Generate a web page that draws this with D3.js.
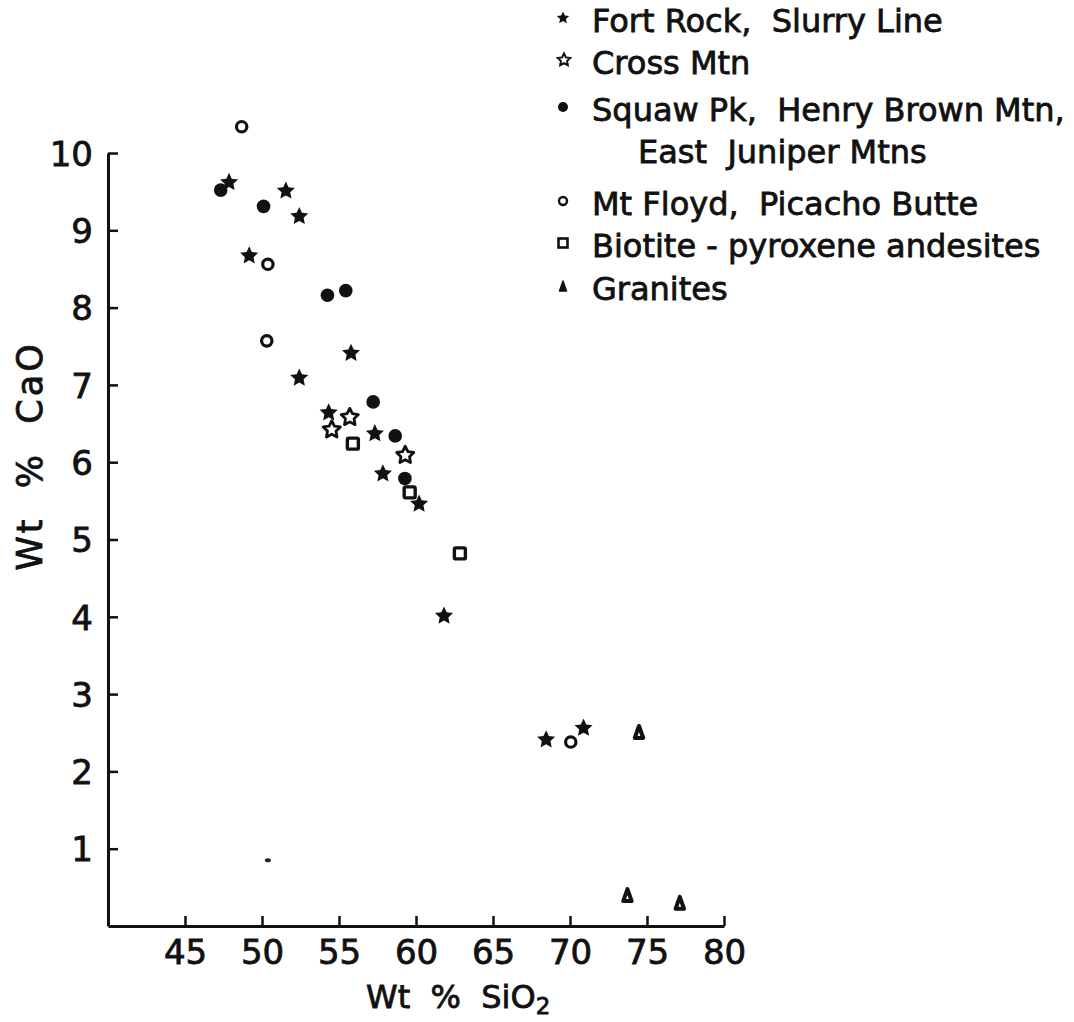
<!DOCTYPE html>
<html>
<head>
<meta charset="utf-8">
<script src="https://cdn.jsdelivr.net/npm/d3@7"></script>
<style>
  body { margin: 0; background: #fff; }
  svg text { font-family: "DejaVu Sans", "Liberation Sans", sans-serif; fill: #111; white-space: pre;
    stroke: #111; stroke-width: 0.8px; }
</style>
</head>
<body>
<div id="chart"></div>
<script>
// data: [SiO2, CaO]
var fortRock = [[47.86, 9.62], [51.55, 9.51], [52.42, 9.18], [49.17, 8.67], [55.78, 7.41],
  [52.42, 7.09], [54.33, 6.64], [57.33, 6.37], [57.85, 5.85], [60.2, 5.46],
  [61.82, 4.01], [68.45, 2.41], [70.88, 2.56]];
var crossMtn = [[55.7, 6.58], [54.53, 6.42], [59.3, 6.09]];
var squawPk = [[47.32, 9.52], [50.1, 9.31], [54.25, 8.16], [55.44, 8.22], [57.22, 6.78],
  [58.65, 6.34], [59.28, 5.79]];
var mtFloyd = [[48.68, 10.34], [50.38, 8.56], [50.31, 7.57], [70.05, 2.38]];
var biotite = [[55.9, 6.24], [59.59, 5.61], [62.85, 4.82]];
var granites = [[74.48, 2.51], [73.73, 0.40], [77.13, 0.30]];
var speck = [[50.38, 0.85]];

var xTicks = [45, 50, 55, 60, 65, 70, 75, 80];
var yTicks = [1, 2, 3, 4, 5, 6, 7, 8, 9, 10];

var legendLabels = [
  ["Fort Rock,  Slurry Line"],
  ["Cross Mtn"],
  ["Squaw Pk,  Henry Brown Mtn,", "East  Juniper Mtns"],
  ["Mt Floyd,  Picacho Butte"],
  ["Biotite - pyroxene andesites"],
  ["Granites"]
];

var svgWidth = 1074;
var svgHeight = 1022;

var svg = d3.select("#chart")
  .append("svg")
  .attr("width", svgWidth)
  .attr("height", svgHeight);

var xScale = d3.scaleLinear().domain([40, 80]).range([108, 724]);
var yScale = d3.scaleLinear().domain([0, 10]).range([926, 153]);

// axes, ticks point inward
var bottomAxis = d3.axisBottom(xScale).tickValues(xTicks).tickSizeInner(-10).tickSizeOuter(0).tickPadding(14);
var leftAxis = d3.axisLeft(yScale).tickValues(yTicks).tickSizeInner(-10).tickSizeOuter(0).tickPadding(15);

var gx = svg.append("g")
  .attr("transform", `translate(0, ${yScale(0)})`)
  .call(bottomAxis);
var gy = svg.append("g")
  .attr("transform", `translate(${xScale(40)}, 0)`)
  .call(leftAxis);

[gx, gy].forEach(function(g) {
  g.select(".domain").attr("stroke", "#111").attr("stroke-width", 3);
  g.selectAll(".tick line").attr("stroke", "#111").attr("stroke-width", 2.5);
  g.selectAll(".tick text").style("font-size", "34px").style("font-family", "DejaVu Sans").attr("fill", "#111");
});
gy.selectAll(".tick text").attr("dy", "0.36em");

// axis titles
svg.append("text")
  .attr("transform", `translate(42, 456) rotate(-90)`)
  .attr("text-anchor", "middle")
  .style("font-size", "35px")
  .style("letter-spacing", "3px")
  .text("Wt  %  CaO");

var xTitle = svg.append("text")
  .attr("x", 366)
  .attr("y", 1008)
  .style("font-size", "32px");
xTitle.append("tspan").text("Wt  %  SiO");
xTitle.append("tspan").attr("dy", 6).style("font-size", "23px").text("2");

// marker shapes
function starPath(r, k) {
  var pts = [];
  for (var i = 0; i < 10; i++) {
    var a = -Math.PI / 2 + i * Math.PI / 5;
    var rr = i % 2 ? r * k : r;
    pts.push([rr * Math.cos(a), rr * Math.sin(a)]);
  }
  return d3.line()(pts) + "Z";
}
var triPath = function(w, h) {
  return `M0,${-h / 2} L${w / 2},${h / 2} L${-w / 2},${h / 2} Z`;
};

var marks = svg.append("g");

function place(sel) {
  return sel.attr("transform", d => `translate(${xScale(d[0])}, ${yScale(d[1])})`);
}

place(marks.selectAll(".fr").data(fortRock).enter().append("path"))
  .attr("d", starPath(9.5, 0.48)).attr("fill", "#111");

place(marks.selectAll(".cm").data(crossMtn).enter().append("path"))
  .attr("d", starPath(9, 0.5)).attr("fill", "#fff").attr("stroke", "#111").attr("stroke-width", 2.8)
  .attr("stroke-linejoin", "round");

marks.selectAll(".sq").data(squawPk).enter().append("circle")
  .attr("cx", d => xScale(d[0])).attr("cy", d => yScale(d[1]))
  .attr("r", 6.8).attr("fill", "#111");

marks.selectAll(".mf").data(mtFloyd).enter().append("circle")
  .attr("cx", d => xScale(d[0])).attr("cy", d => yScale(d[1]))
  .attr("r", 5.2).attr("fill", "#fff").attr("stroke", "#111").attr("stroke-width", 3.2);

marks.selectAll(".bt").data(biotite).enter().append("rect")
  .attr("x", d => xScale(d[0]) - 5.5).attr("y", d => yScale(d[1]) - 5.5)
  .attr("width", 11).attr("height", 11).attr("rx", 1.5)
  .attr("fill", "#fff").attr("stroke", "#111").attr("stroke-width", 3.4);

place(marks.selectAll(".gr").data(granites).enter().append("path"))
  .attr("d", triPath(8.5, 12)).attr("fill", "#fff").attr("stroke", "#111")
  .attr("stroke-width", 4).attr("stroke-linejoin", "round");

marks.selectAll(".sp").data(speck).enter().append("ellipse")
  .attr("cx", d => xScale(d[0])).attr("cy", d => yScale(d[1]))
  .attr("rx", 3).attr("ry", 2).attr("fill", "#222");

// legend
var legendBase = [32, 74, 121, 215, 257, 300];
var legend = svg.append("g");
legendLabels.forEach(function(lines, i) {
  var y = legendBase[i];
  var g = legend.append("g");
  g.append("text").attr("x", 592).attr("y", y).style("font-size", "32px").text(lines[0]);
  if (lines[1]) {
    g.append("text").attr("x", 638).attr("y", y + 42).style("font-size", "32px").text(lines[1]);
  }
  var sy = y - 14;
  if (i === 0) {
    g.append("path").attr("transform", `translate(563, ${sy})`).attr("d", starPath(6.5, 0.48)).attr("fill", "#111");
  } else if (i === 1) {
    g.append("path").attr("transform", `translate(564, ${sy})`).attr("d", starPath(6.5, 0.5))
      .attr("fill", "#fff").attr("stroke", "#111").attr("stroke-width", 2);
  } else if (i === 2) {
    g.append("circle").attr("cx", 563).attr("cy", sy).attr("r", 5).attr("fill", "#111");
  } else if (i === 3) {
    g.append("circle").attr("cx", 563).attr("cy", sy).attr("r", 4).attr("fill", "#fff")
      .attr("stroke", "#111").attr("stroke-width", 2.4);
  } else if (i === 4) {
    g.append("rect").attr("x", 558.5).attr("y", sy - 4.5).attr("width", 9).attr("height", 9)
      .attr("fill", "#fff").attr("stroke", "#111").attr("stroke-width", 2.6);
  } else {
    g.append("path").attr("transform", `translate(563, ${sy})`).attr("d", triPath(7, 10))
      .attr("fill", "#111").attr("stroke", "#111").attr("stroke-width", 1.5).attr("stroke-linejoin", "round");
  }
});
</script>
</body>
</html>
